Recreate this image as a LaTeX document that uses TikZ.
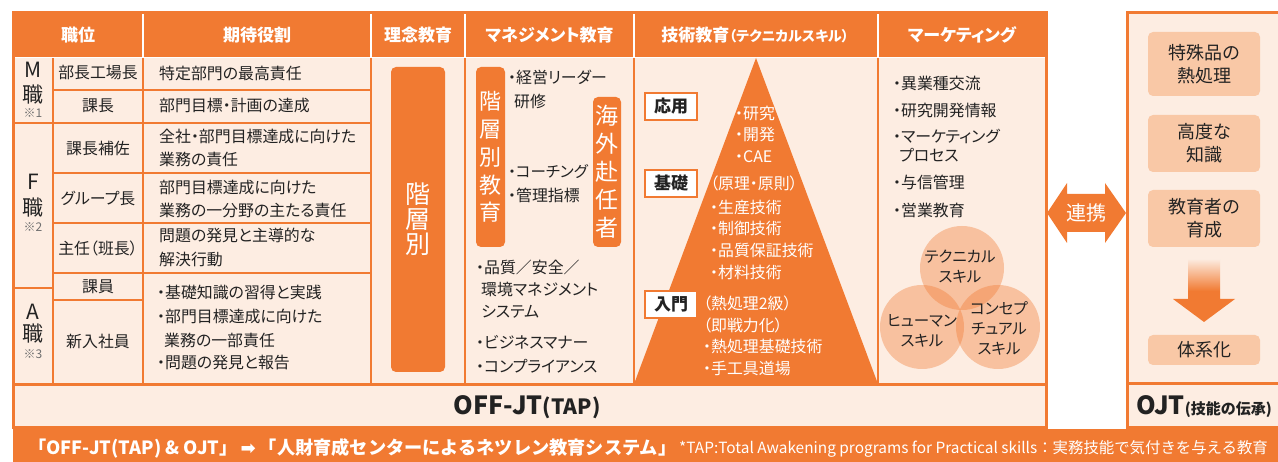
\documentclass[tikz,border=0pt]{standalone}
\usepackage{fontspec}
\setmainfont{Noto Sans CJK JP}[RawFeature={+palt}]
\newfontfamily\jpplain{Noto Sans CJK JP}
\newfontfamily\dejavu{DejaVu Sans}
\usetikzlibrary{calc}
\definecolor{org}{RGB}{241,122,50}
\definecolor{pch}{RGB}{253,237,226}
\definecolor{txt}{RGB}{34,34,34}
\definecolor{lor}{RGB}{249,200,166}
\definecolor{pale}{RGB}{252,232,218}
\newcommand{\fsz}[2]{\fontsize{#1}{#2}\selectfont}
\tikzset{
  t/.style={inner sep=0pt, text=txt, font=\fsz{15.9}{20}, anchor=west},
  tc/.style={inner sep=0pt, text=txt, font=\fsz{15.9}{20}},
  w/.style={inner sep=0pt, text=white, font=\fsz{15.9}{20}, anchor=west},
  hd/.style={inner sep=0pt, text=white, font=\fsz{17}{20}\bfseries},
  gl/.style={draw=org, line width=2pt},
  cat/.style={inner sep=0pt, text=txt, font=\fsz{21}{21}},
  note/.style={inner sep=0pt, text=txt!65, font=\fsz{12}{12}},
  lvl/.style={draw=org, line width=1.5pt, fill=white, minimum width=52pt, minimum height=27pt, inner sep=0pt, text=txt, font=\fsz{17}{17}\bfseries},
  vbox/.style={fill=org, rounded corners=5pt, inner sep=0pt, text=white, align=center},
  ojtbox/.style={fill=lor, rounded corners=5pt, inner sep=0pt, text=txt, align=center, minimum width=112pt, font=\fsz{18}{23}},
  circ/.style={circle, fill=org, fill opacity=0.38, minimum size=84pt, inner sep=0pt},
  ct/.style={inner sep=0pt, text=txt, font=\fsz{15.5}{20}, align=center},
}
\begin{document}
\begin{tikzpicture}[x=1pt,y=-1pt]
\useasboundingbox (0,0) rectangle (1278,462);
% ---------- main frame ----------
\fill[pch] (13,13) rectangle (1046,428);
\fill[org] (13,13) rectangle (1046,57);
\foreach \x in {143,371,465,634,878} \draw[white,line width=2pt] (\x,13) -- (\x,57);
% grid
\draw[gl] (53,90) -- (371,90);
\draw[gl] (13,123) -- (371,123);
\draw[gl] (53,173) -- (371,173);
\draw[gl] (53,223) -- (371,223);
\draw[gl] (53,273) -- (371,273);
\draw[gl] (53,300) -- (143,300);
\draw[gl] (13,288) -- (53,288);
\draw[gl] (53,57) -- (53,384);
\draw[gl] (143,57) -- (143,384);
\draw[gl] (371,57) -- (371,384);
\draw[draw=org,line width=1.6pt] (465,57) -- (465,384);
\draw[draw=org,line width=1.6pt] (634,57) -- (634,384);
\draw[draw=org,line width=1.6pt] (878,57) -- (878,384);
\draw[white,line width=1pt] (13,57.5) -- (1046,57.5);
% triangle
\fill[org] (756,58) -- (878,384) -- (634,384) -- cycle;
\draw[org,line width=3pt] (13,384.5) -- (1046,384.5);
\draw[org,line width=3pt] (13,13) rectangle (1046,428);
% ---------- OJT frame ----------
\fill[pch] (1127,13) rectangle (1280,428);
\draw[org,line width=3pt] (1127,13) rectangle (1280,428);
\draw[org,line width=3pt] (1127,384) -- (1280,384);
% banner
\fill[org] (13,429) rectangle (1278,462);
% ---------- header ----------
\node[hd] (h1) at (78,35) {職位};
\node[hd] (h2) at (257,35) {期待役割};
\node[hd] (h3) at (418,35) {理念教育};
\node[hd] (h4) at (549.5,35) {マネジメント教育};
\node[hd] (h5) at (755,35) {技術教育{\fsz{14}{14}（テクニカルスキル）}};
\node[hd] (h6) at (962,35) {マーケティング};
% ---------- category ----------
\node[cat] (cm) at (33,70) {M};
\node[cat] (cm2) at (33,95) {職};
\node[note] (cm3) at (33,113) {※1};
\node[cat] (cf) at (33,182) {F};
\node[cat] (cf2) at (33,208) {職};
\node[note] (cf3) at (33,227) {※2};
\node[cat] (ca) at (33,312) {A};
\node[cat] (ca2) at (33,334) {職};
\node[note] (ca3) at (33,354) {※3};
% ---------- positions ----------
\node[tc] (p1) at (98,73) {部長工場長};
\node[tc] (p2) at (98,106) {課長};
\node[tc] (p3) at (98,148) {課長補佐};
\node[tc] (p4) at (98,198) {グループ長};
\node[tc] (p5) at (98,248) {主任（班長）};
\node[tc] (p6) at (98,287) {課員};
\node[tc] (p7) at (98,341) {新入社員};
% ---------- roles ----------
\node[t] (r1) at (159,73) {特定部門の最高責任};
\node[t] (r2) at (159,106) {部門目標・計画の達成};
\node[t] (r3a) at (159,137) {全社・部門目標達成に向けた};
\node[t] (r3b) at (159,159) {業務の責任};
\node[t] (r4a) at (159,187) {部門目標達成に向けた};
\node[t] (r4b) at (159,210) {業務の一分野の主たる責任};
\node[t] (r5a) at (159,235) {問題の発見と主導的な};
\node[t] (r5b) at (159,259) {解決行動};
\node[t] (r6a) at (157,292) {・基礎知識の習得と実践};
\node[t] (r6b) at (157,316) {・部門目標達成に向けた};
\node[t] (r6c) at (164,340) {業務の一部責任};
\node[t] (r6d) at (157,363) {・問題の発見と報告};
% ---------- philosophy ----------
\node[vbox, minimum width=54pt, minimum height=305pt, font=\fsz{25}{25}] (rin) at (418,219.5) {階\\層\\別};
% ---------- management ----------
\node[vbox, minimum width=29pt, minimum height=180pt, font=\fsz{22}{27.8}] (kai) at (490.5,157) {階\\層\\別\\教\\育};
\node[vbox, minimum width=28pt, minimum height=150pt, font=\fsz{23}{28}] (kaigai) at (607,172) {海\\外\\赴\\任\\者};
\node[t] (m1) at (508,77) {・経営リーダー};
\node[t] (m2) at (514,101) {研修};
\node[t, font=\fsz{15.5}{20}] (m3) at (508,172) {・コーチング};
\node[t] (m4) at (508,195) {・管理指標};
\node[t] (m5) at (476,267) {・品質／安全／};
\node[t] (m6) at (481,289) {環境マネジメント};
\node[t] (m7) at (481,312) {システム};
\node[t] (m8) at (476,342) {・ビジネスマナー};
\node[t] (m9) at (476,366) {・コンプライアンス};
% ---------- technical ----------
\node[lvl] (l1) at (671,106.5) {応用};
\node[lvl] (l2) at (671,183.5) {基礎};
\node[lvl] (l3) at (671,304.5) {入門};
\node[w] (g1) at (735,113) {・研究};
\node[w] (g2) at (735,135) {・開発};
\node[w] (g3) at (735,157) {・CAE};
\node[w] (g4) at (710,183) {（原理・原則）};
\node[w] (g5) at (710,207) {・生産技術};
\node[w] (g6) at (710,228) {・制御技術};
\node[w] (g7) at (710,250) {・品質保証技術};
\node[w] (g8) at (710,272) {・材料技術};
\node[w] (g9) at (703,303) {（熱処理2級）};
\node[w] (g10) at (703,325) {（即戦力化）};
\node[w] (g11) at (703,346) {・熱処理基礎技術};
\node[w] (g12) at (703,368) {・手工具道場};
% ---------- marketing ----------
\node[t] (k1) at (893,83) {・異業種交流};
\node[t] (k2) at (893,110) {・研究開発情報};
\node[t] (k3) at (893,136) {・マーケティング};
\node[t] (k4) at (899,155) {プロセス};
\node[t] (k5) at (893,182) {・与信管理};
\node[t] (k6) at (893,210) {・営業教育};
\node[circ] (c1) at (962,268) {};
\node[circ] (c2) at (922,327) {};
\node[circ] (c3) at (998,327) {};
\node[ct] (c1t) at (960,267) {テクニカル\\スキル};
\node[ct] (c2t) at (922,331) {ヒューマン\\スキル};
\node[ct] (c3t) at (999,328) {コンセプ\\チュアル\\スキル};
% ---------- link arrow ----------
\fill[org] (1047,213) -- (1067,183) -- (1067,194) -- (1105,194) -- (1105,183) -- (1126,213) -- (1105,243) -- (1105,232) -- (1067,232) -- (1067,243) -- cycle;
\node[inner sep=0pt, text=white, font=\fsz{20}{20}] (ren) at (1086.5,213) {連携};
% ---------- OJT content ----------
\node[ojtbox, minimum height=64pt] (o1) at (1204,64) {特殊品の\\熱処理};
\node[ojtbox, minimum height=57pt] (o2) at (1204,143.5) {高度な\\知識};
\node[ojtbox, minimum height=57pt] (o3) at (1204,218.5) {教育者の\\育成};
\node[ojtbox, minimum height=30pt] (o4) at (1204,350) {体系化};
\shade[top color=pale, bottom color=org, middle color=org] (1188,260) -- (1220,260) -- (1220,299) -- (1235,299) -- (1204,322) -- (1173,299) -- (1188,299) -- cycle;
% ---------- bottom labels ----------
\node[inner sep=0pt, text=txt, font=\fsz{25}{25}\bfseries] (offjt) at (527,407) {OFF-JT{\fsz{21}{21}(TAP)}};
\node[inner sep=0pt, text=txt, font=\fsz{25}{25}\bfseries] (ojtl) at (1204,407) {OJT{\fsz{15}{15}(技能の伝承)}};
\node[anchor=west, inner sep=0pt, text=white, font=\jpplain\fsz{18.2}{19}\bfseries] (ban) at (28,448) {「OFF-JT(TAP) \& OJT」{\dejavu\,➡\,}「人財育成センターによるネツレン教育システム」};
\node[anchor=west, inner sep=0pt, text=white, font=\jpplain\fsz{15.4}{16}] (fn) at (679,449) {*TAP:Total Awakening programs for Practical skills：実務技能で気付きを与える教育};
\end{tikzpicture}
\end{document}
